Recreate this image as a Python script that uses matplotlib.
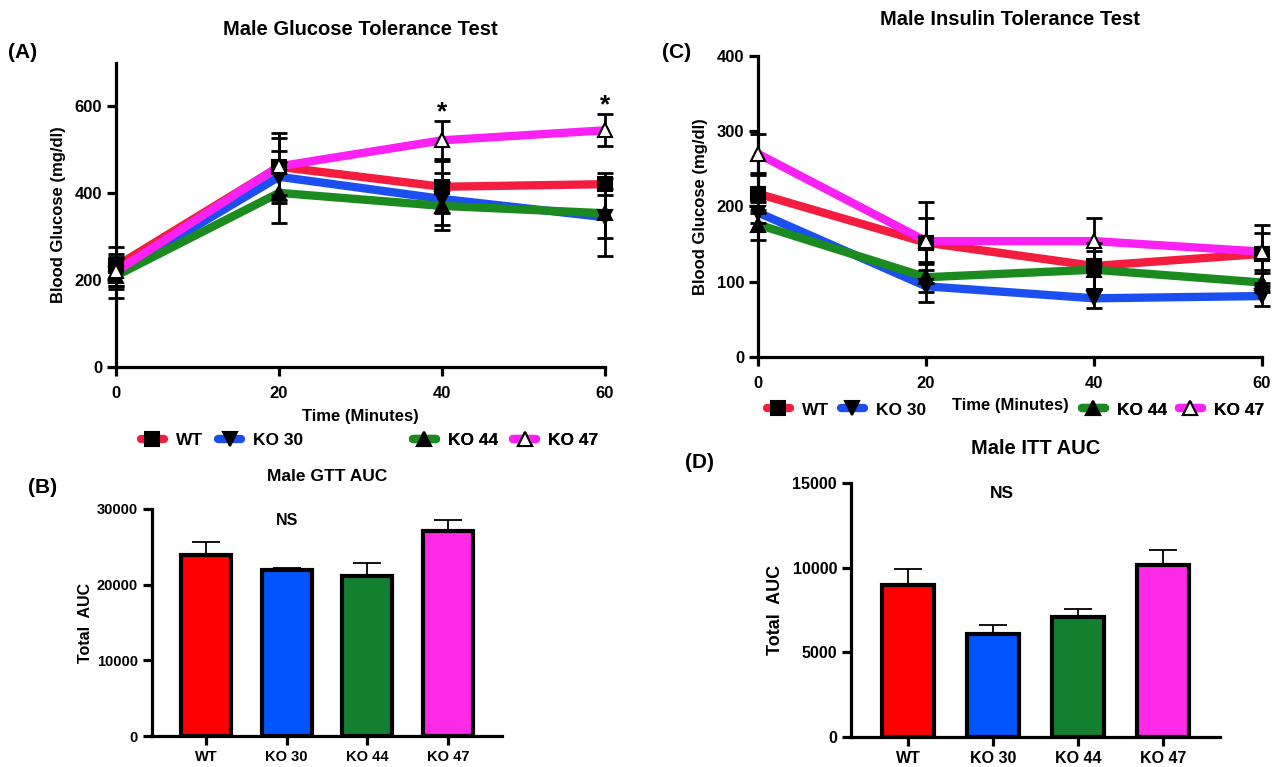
import numpy as np
import matplotlib
matplotlib.use("Agg")
import matplotlib.pyplot as plt
from matplotlib.lines import Line2D

plt.rcParams['font.family'] = ['Liberation Sans', 'DejaVu Sans']
plt.rcParams['font.weight'] = 'bold'
plt.rcParams['axes.labelweight'] = 'bold'

groups = ["WT", "KO 30", "KO 44", "KO 47"]
minutes = [0, 20, 40, 60]

# glucose tolerance test (mg/dl)
gtt_wt = [232, 461, 415, 421]
gtt_ko30 = [215, 438, 387, 345]
gtt_ko44 = [210, 401, 371, 354]
gtt_ko47 = [220, 462, 522, 545]
gtt_wt_err = [45, 77, 60, 26]
gtt_ko30_err = [35, 60, 60, 90]
gtt_ko44_err = [51, 70, 55, 57]
gtt_ko47_err = [33, 65, 44, 37]

# insulin tolerance test (mg/dl)
itt_wt = [217, 152, 121, 137]
itt_ko30 = [192, 94, 78, 81]
itt_ko44 = [176, 106, 116, 99]
itt_ko47 = [270, 154, 154, 140]
itt_wt_err = [25, 54, 30, 38]
itt_ko30_err = [14, 21, 13, 13]
itt_ko44_err = [20, 20, 25, 12]
itt_ko47_err = [26, 31, 31, 25]

# area under curve
gtt_auc = [23900, 21900, 21100, 27100]
gtt_auc_err = [1700, 300, 1800, 1500]
itt_auc = [8950, 6100, 7100, 10150]
itt_auc_err = [950, 500, 450, 900]

line_colors = ["#f21d3f", "#1c4ff0", "#1b8a1f", "#fb21f5"]
bar_colors = ["#ff0000", "#0055ff", "#138030", "#ff2ae8"]
markers = ["s", "v", "^", "^"]
marker_faces = ["black", "black", "black", "white"]

W, H = 1274, 767
fig = plt.figure(figsize=(W / 100, H / 100), dpi=100)


def px_axes(left, top, right, bottom):
    return fig.add_axes([left / W, 1 - bottom / H, (right - left) / W, (bottom - top) / H])


def style_axes(ax, size):
    for s in ["top", "right"]:
        ax.spines[s].set_visible(False)
    for s in ["left", "bottom"]:
        ax.spines[s].set_linewidth(2.3)
    ax.tick_params(width=2.3, length=6.5, labelsize=size)
    for lab in ax.get_xticklabels() + ax.get_yticklabels():
        lab.set_fontweight('bold')


def line_panel(ax, series, errs):
    for i, (vals, err) in enumerate(zip(series, errs)):
        ax.errorbar(minutes, vals, yerr=err, fmt='none', ecolor='black',
                    elinewidth=2, capsize=6, capthick=2, zorder=3, clip_on=False)
    for i, vals in enumerate(series):
        ax.plot(minutes, vals, color=line_colors[i], lw=6, solid_capstyle='round',
                zorder=2, clip_on=False)
    for i, vals in enumerate(series):
        ax.plot(minutes, vals, ls='none', marker=markers[i], ms=10,
                mfc=marker_faces[i], mec='black', mew=1.5, zorder=4, clip_on=False)
    ax.set_xlim(0, 60)
    ax.set_xticks(minutes)
    style_axes(ax, 12)
    ax.tick_params(axis='x', pad=7)


def legend_handles(idx):
    return [Line2D([], [], color=line_colors[i], lw=6, solid_capstyle='round',
                   marker=markers[i], ms=10, mfc=marker_faces[i], mec='black', mew=1.5)
            for i in idx]


def add_legend(ax, idx, anchor, spacing=0.7):
    leg = ax.legend(legend_handles(idx), [groups[i] for i in idx], ncol=2, frameon=False,
                    loc='center left', bbox_to_anchor=anchor, bbox_transform=fig.transFigure,
                    handlelength=1.3, columnspacing=spacing, handletextpad=0.7,
                    borderaxespad=0, borderpad=0,
                    prop={'weight': 'bold', 'size': 12.5})
    ax.add_artist(leg)


def bar_panel(ax, vals, errs, top, size):
    x = np.arange(len(groups))
    ax.errorbar(x, vals, yerr=[np.zeros(len(errs)), errs], fmt='none', ecolor='black',
                elinewidth=1.3, capsize=10, capthick=1.3, zorder=1)
    ax.bar(x, vals, width=0.62, color=bar_colors, edgecolor='black', linewidth=3, zorder=2)
    ax.set_xlim(-0.67, 3.67)
    ax.set_ylim(0, top)
    ax.set_xticks(x)
    ax.set_xticklabels(groups)
    style_axes(ax, size)


# (A) GTT
axA = px_axes(116, 63, 605, 367)
line_panel(axA, [gtt_wt, gtt_ko30, gtt_ko44, gtt_ko47],
           [gtt_wt_err, gtt_ko30_err, gtt_ko44_err, gtt_ko47_err])
axA.set_ylim(0, 700)
axA.set_yticks([0, 200, 400, 600])
axA.set_ylabel("Blood Glucose (mg/dl)", fontsize=12, fontweight='bold', labelpad=6)
axA.set_xlabel("Time (Minutes)", fontsize=12, fontweight='bold', labelpad=6)
axA.set_title("Male Glucose Tolerance Test", fontsize=14.5, fontweight='bold', pad=20)
for t in [40, 60]:
    idx = minutes.index(t)
    axA.text(t, gtt_ko47[idx] + gtt_ko47_err[idx] - 8, "*", ha='center', va='bottom',
             fontsize=19, fontweight='bold')
add_legend(axA, [0, 1], (141 / W, 1 - 440 / H), spacing=0.9)
add_legend(axA, [2, 3], (413 / W, 1 - 440 / H), spacing=0.9)

# (C) ITT
axC = px_axes(758, 56, 1262, 357)
line_panel(axC, [itt_wt, itt_ko30, itt_ko44, itt_ko47],
           [itt_wt_err, itt_ko30_err, itt_ko44_err, itt_ko47_err])
axC.set_ylim(0, 400)
axC.set_yticks([0, 100, 200, 300, 400])
axC.set_ylabel("Blood Glucose (mg/dl)", fontsize=12, fontweight='bold', labelpad=6)
axC.set_xlabel("Time (Minutes)", fontsize=12, fontweight='bold', labelpad=5)
axC.set_title("Male Insulin Tolerance Test", fontsize=14.5, fontweight='bold', pad=22)
add_legend(axC, [0, 1], (767 / W, 1 - 410 / H))
add_legend(axC, [2, 3], (1082 / W, 1 - 410 / H))

# (B) GTT AUC
axB = px_axes(152, 509, 502, 736)
bar_panel(axB, gtt_auc, gtt_auc_err, 30000, 10.5)
axB.set_yticks([0, 10000, 20000, 30000])
axB.set_ylabel("Total  AUC", fontsize=11.5, fontweight='bold', labelpad=3)
axB.set_title("Male GTT AUC", fontsize=12.5, fontweight='bold', pad=20)
axB.text(1.0, 29500, "NS", ha='center', va='top', fontsize=11.5, fontweight='bold')

# (D) ITT AUC
axD = px_axes(851, 483, 1220, 737)
bar_panel(axD, itt_auc, itt_auc_err, 15000, 11.5)
axD.set_yticks([0, 5000, 10000, 15000])
axD.set_ylabel("Total  AUC", fontsize=13, fontweight='bold', labelpad=6)
axD.set_title("Male ITT AUC", fontsize=14.5, fontweight='bold', pad=21)
axD.text(1.1, 14800, "NS", ha='center', va='top', fontsize=12.5, fontweight='bold')

# panel letters
for lab, x, y in [("(A)", 8, 53), ("(C)", 662, 53), ("(B)", 28, 487), ("(D)", 685, 462)]:
    fig.text(x / W, 1 - y / H, lab, fontsize=15, fontweight='bold', ha='left', va='center')

fig.savefig("out.png", dpi=100)
